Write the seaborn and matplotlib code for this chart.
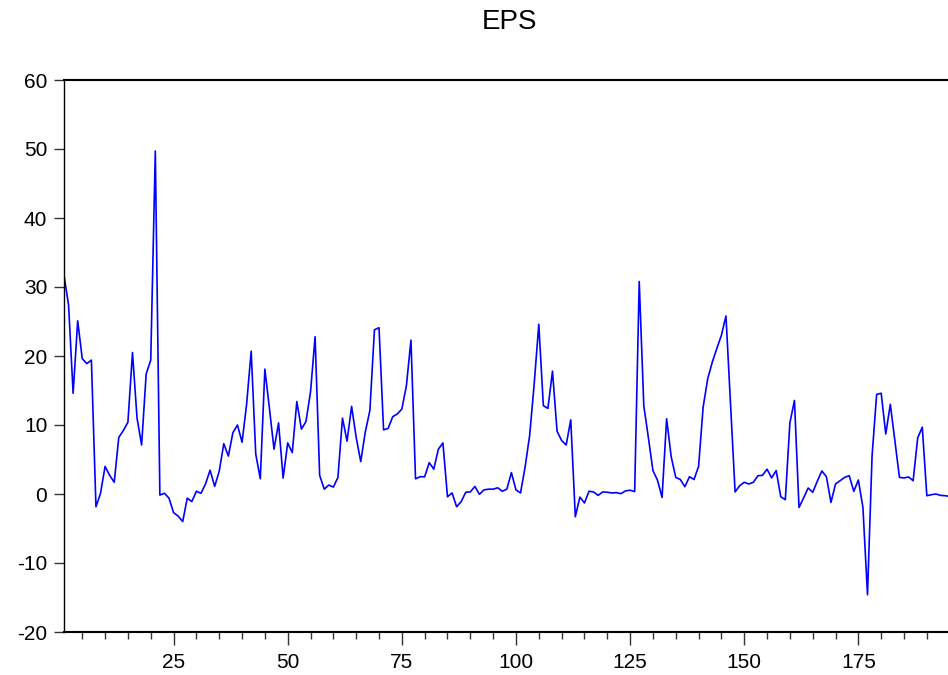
import matplotlib
matplotlib.use("Agg")
import matplotlib.pyplot as plt
import seaborn as sns
import pandas as pd
import numpy as np
from matplotlib.ticker import MultipleLocator

sns.set_theme(style="white")
plt.rcParams['font.family'] = ['Liberation Sans', 'DejaVu Sans']

title = "EPS"
eps = [
    31.7, 27.4, 14.6, 25.1, 19.6, 18.9, 19.4, -1.85, 0.1, 4.0,
    2.7, 1.7, 8.2, 9.2, 10.4, 20.5, 11.0, 7.1, 17.4, 19.4,
    49.7, -0.15, 0.1, -0.6, -2.7, -3.2, -4.0, -0.6, -1.1, 0.4,
    0.1, 1.45, 3.45, 1.1, 3.3, 7.3, 5.5, 8.9, 10.0, 7.5,
    13.0, 20.7, 5.8, 2.2, 18.1, 12.4, 6.5, 10.3, 2.3, 7.4,
    6.0, 13.4, 9.4, 10.5, 14.8, 22.8, 2.7, 0.7, 1.3, 1.0,
    2.4, 11.0, 7.65, 12.7, 8.2, 4.7, 9.0, 12.1, 23.8, 24.1,
    9.3, 9.5, 11.2, 11.6, 12.3, 15.7, 22.3, 2.2, 2.5, 2.5,
    4.55, 3.6, 6.5, 7.4, -0.4, 0.15, -1.85, -1.1, 0.25, 0.3,
    1.1, -0.05, 0.6, 0.7, 0.7, 0.9, 0.4, 0.7, 3.1, 0.6,
    0.15, 3.9, 8.5, 16.0, 24.6, 12.8, 12.4, 17.8, 9.1, 7.75,
    7.1, 10.75, -3.3, -0.45, -1.3, 0.4, 0.3, -0.2, 0.3, 0.25,
    0.15, 0.2, 0.05, 0.45, 0.55, 0.35, 30.8, 12.8, 8.2, 3.4,
    2.0, -0.5, 10.9, 5.4, 2.4, 2.1, 1.06, 2.5, 2.1, 4.0,
    12.6, 16.7, 19.1, 21.1, 23.0, 25.8, 13.0, 0.3, 1.2, 1.7,
    1.45, 1.7, 2.65, 2.7, 3.6, 2.33, 3.39, -0.39, -0.83, 10.3,
    13.56, -1.95, -0.58, 0.87, 0.24, 1.84, 3.34, 2.51, -1.22, 1.45,
    1.93, 2.41, 2.66, 0.38, 2.03, -1.95, -14.6, 5.5, 14.43, 14.6,
    8.7, 13.0, 7.75, 2.41, 2.33, 2.47, 1.93, 8.14, 9.68, -0.25,
    -0.1, 0.0, -0.2, -0.25, -0.35,
]
obs = list(range(1, len(eps) + 1))
y_ticks = [-20, -10, 0, 10, 20, 30, 40, 50, 60]
x_ticks = [25, 50, 75, 100, 125, 150, 175]

df = pd.DataFrame({"obs": obs, "eps": eps})

fig = plt.figure(figsize=(9.48, 6.75), dpi=100)
ax = fig.add_axes([64 / 948, 1 - 632 / 675, 1 - 64 / 948 + 0.002, (632 - 80) / 675])

sns.lineplot(data=df, x="obs", y="eps", ax=ax, color=(0, 0, 1), linewidth=1.2)

ax.set_xlim(1, len(eps) + 0.05)
ax.set_ylim(-20, 60)
ax.set_yticks(y_ticks)
ax.set_yticklabels([str(v) for v in y_ticks])
ax.set_xticks(x_ticks)
ax.set_xticklabels([str(v) for v in x_ticks])
ax.xaxis.set_minor_locator(MultipleLocator(5))
ax.set_xlabel("")
ax.set_ylabel("")
ax.grid(False)

ax.tick_params(axis="both", which="major", labelsize=15, colors="black",
               direction="out", width=1.0, color="#333333")
ax.tick_params(axis="y", which="major", length=7, pad=5, left=True)
ax.tick_params(axis="x", which="major", length=9, pad=6, bottom=True)
ax.tick_params(axis="x", which="minor", length=5, width=1.0, bottom=True, color="#333333")

for side in ["left", "bottom", "top", "right"]:
    ax.spines[side].set_color("black")
ax.spines["left"].set_linewidth(1.0)
ax.spines["bottom"].set_linewidth(1.5)
ax.spines["top"].set_linewidth(1.5)
ax.spines["right"].set_linewidth(1.0)

fig.text(510 / 948, 1 - 22 / 675, title, ha="center", va="center", fontsize=20, color="black")

fig.savefig("out.png", dpi=100, facecolor="white")
